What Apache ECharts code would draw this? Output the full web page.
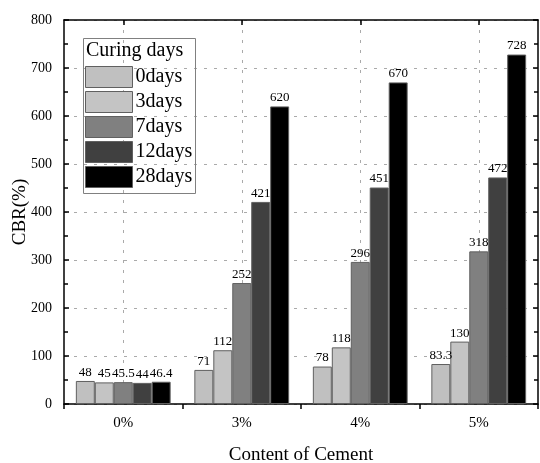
<!DOCTYPE html>
<html><head><meta charset="utf-8">
<script src="https://cdn.jsdelivr.net/npm/echarts@6/dist/echarts.min.js"></script>
<style>html,body{margin:0;padding:0;background:#fff}#c{width:540px;height:463px}</style>
</head><body><div id="c"></div>
<script>
const categories = ['0%', '3%', '4%', '5%'];
const seriesNames = ['0days', '3days', '7days', '12days', '28days'];
const d0 = [48, 71, 78, 83.3];
const d3 = [45, 112, 118, 130];
const d7 = [45.5, 252, 296, 318];
const d12 = [44, 421, 451, 472];
const d28 = [46.4, 620, 670, 728];
const yTicks = [0, 100, 200, 300, 400, 500, 600, 700, 800];
const colors = ['#c0c0c0', '#c4c4c4', '#808080', '#404040', '#000000'];
const values = [d0, d3, d7, d12, d28];
const font = 'Liberation Serif';

const chart = echarts.init(document.getElementById('c'));
const series = seriesNames.map((n, i) => ({
  name: n, type: 'bar', xAxisIndex: 0, yAxisIndex: 0,
  data: values[i],
  barGap: '0%', barCategoryGap: '20%',
  itemStyle: { color: colors[i], borderColor: '#606060', borderWidth: 1 },
  label: { show: true, position: 'top', distance: 2, fontFamily: font, fontSize: 13, color: '#000' }
}));

chart.setOption({
  animation: false,
  textStyle: { fontFamily: font },
  grid: { left: 64, right: 2, top: 20, bottom: 59, containLabel: false, outerBoundsMode: 'none' },
  legend: {
    orient: 'vertical', left: 85, top: 66, padding: 0, itemWidth: 47, itemHeight: 21, itemGap: 3,
    icon: 'rect',
    data: seriesNames,
    textStyle: { fontFamily: font, fontSize: 20, color: '#000', lineHeight: 21, padding: [0, 0, 0, -2] },
    itemStyle: { borderColor: '#606060', borderWidth: 1 }
  },
  graphic: [
    { type: 'rect', shape: { x: 83.5, y: 38.5, width: 112, height: 155 }, style: { fill: 'none', stroke: '#808080', lineWidth: 1 }, z: 100 },
    { type: 'text', left: 86, top: 41, style: { text: 'Curing days', font: '20px "Liberation Serif"', fill: '#000' }, z: 100 }
  ],
  xAxis: [
    { type: 'category', data: categories, position: 'bottom',
      name: 'Content of Cement', nameLocation: 'middle', nameGap: 42, nameMoveOverlap: false,
      nameTextStyle: { fontFamily: font, fontSize: 19, color: '#000' },
      axisLine: { lineStyle: { color: '#000', width: 1.5 } },
      axisTick: { show: true, inside: false, length: 5, lineStyle: { color: '#000', width: 1.5 } },
      axisLabel: { fontFamily: font, fontSize: 15, color: '#000', margin: 12 },
      splitLine: { show: true, alignWithLabel: true, lineStyle: { color: '#aaaaaa', type: [3, 7], width: 1 } } },
    { type: 'category', data: categories, position: 'bottom',
      axisLine: { show: false },
      axisTick: { show: true, inside: true, alignWithLabel: true, length: 5, lineStyle: { color: '#000', width: 1.5 } },
      axisLabel: { show: false }, splitLine: { show: false } },
    { type: 'category', data: categories, position: 'top',
      axisLine: { show: true, lineStyle: { color: '#000', width: 1.5 } },
      axisTick: { show: true, inside: true, alignWithLabel: true, length: 5, lineStyle: { color: '#000', width: 1.5 } },
      axisLabel: { show: false }, splitLine: { show: false } }
  ],
  yAxis: [
    { type: 'value', min: 0, max: 800, interval: 100, position: 'left',
      name: 'CBR(%)', nameLocation: 'middle', nameGap: 34, nameRotate: 90, nameMoveOverlap: false,
      nameTextStyle: { fontFamily: font, fontSize: 19, color: '#000' },
      axisLine: { show: true, lineStyle: { color: '#000', width: 1.5 } },
      axisTick: { show: true, inside: true, length: 5, lineStyle: { color: '#000', width: 1.5 } },
      minorTick: { show: true, splitNumber: 2, length: 4, lineStyle: { color: '#000', width: 1.5 } },
      axisLabel: { fontFamily: font, fontSize: 14, color: '#000', margin: 12,
        formatter: v => yTicks.includes(v) ? String(v) : '' },
      splitLine: { show: true, lineStyle: { color: '#aaaaaa', type: [3, 7], width: 1 } } },
    { type: 'value', min: 0, max: 800, interval: 100, position: 'right',
      axisLine: { show: true, lineStyle: { color: '#000', width: 1.5 } },
      axisTick: { show: true, inside: true, length: 5, lineStyle: { color: '#000', width: 1.5 } },
      minorTick: { show: true, splitNumber: 2, length: 4, lineStyle: { color: '#000', width: 1.5 } },
      axisLabel: { show: false }, splitLine: { show: false } }
  ],
  series: series
});
</script></body></html>
